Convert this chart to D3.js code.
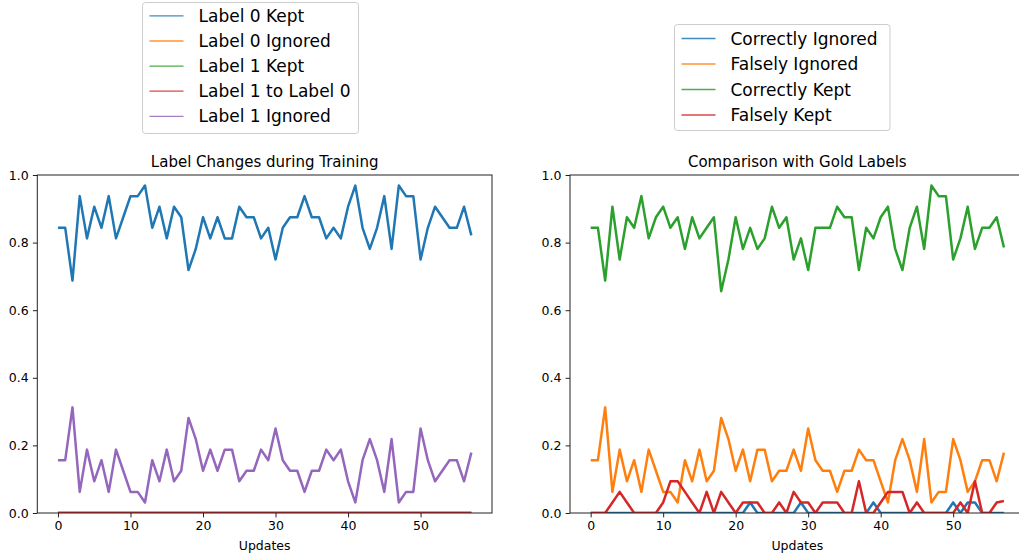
<!DOCTYPE html>
<html><head><meta charset="utf-8">
<script src="https://cdn.jsdelivr.net/npm/d3@7"></script>
<style>
html,body{margin:0;padding:0;background:#fff;}
svg{display:block;font-family:"DejaVu Sans",sans-serif;}
</style></head>
<body>
<svg id="chart" width="1019" height="560"></svg>
<script>
// ---------- data ----------
const updates = d3.range(58);
const xTicks = [0, 10, 20, 30, 40, 50];
const yTicks = [0.0, 0.2, 0.4, 0.6, 0.8, 1.0];

const label0Kept = [0.84375,0.84375,0.6875,0.9375,0.8125,0.90625,0.84375,0.9375,0.8125,0.875,
 0.9375,0.9375,0.96875,0.84375,0.90625,0.8125,0.90625,0.875,0.71875,0.78125,
 0.875,0.8125,0.875,0.8125,0.8125,0.90625,0.875,0.875,0.8125,0.84375,
 0.75,0.84375,0.875,0.875,0.9375,0.875,0.875,0.8125,0.84375,0.8125,
 0.90625,0.96875,0.84375,0.78125,0.84375,0.9375,0.78125,0.96875,0.9375,0.9375,
 0.75,0.84375,0.90625,0.875,0.84375,0.84375,0.90625,0.8214];
const label0Ignored = [0,0,0,0,0,0,0,0,0,0, 0,0,0,0,0,0,0,0,0,0, 0,0,0,0,0,0,0,0,0,0,
 0,0,0,0,0,0,0,0,0,0, 0,0,0,0,0,0,0,0,0,0, 0,0,0,0,0,0,0,0];
const label1Kept = [0,0,0,0,0,0,0,0,0,0, 0,0,0,0,0,0,0,0,0,0, 0,0,0,0,0,0,0,0,0,0,
 0,0,0,0,0,0,0,0,0,0, 0,0,0,0,0,0,0,0,0,0, 0,0,0,0,0,0,0,0];
const label1ToLabel0 = [0,0,0,0,0,0,0,0,0,0, 0,0,0,0,0,0,0,0,0,0, 0,0,0,0,0,0,0,0,0,0,
 0,0,0,0,0,0,0,0,0,0, 0,0,0,0,0,0,0,0,0,0, 0,0,0,0,0,0,0,0];
const label1Ignored = [0.15625,0.15625,0.3125,0.0625,0.1875,0.09375,0.15625,0.0625,0.1875,0.125,
 0.0625,0.0625,0.03125,0.15625,0.09375,0.1875,0.09375,0.125,0.28125,0.21875,
 0.125,0.1875,0.125,0.1875,0.1875,0.09375,0.125,0.125,0.1875,0.15625,
 0.25,0.15625,0.125,0.125,0.0625,0.125,0.125,0.1875,0.15625,0.1875,
 0.09375,0.03125,0.15625,0.21875,0.15625,0.0625,0.21875,0.03125,0.0625,0.0625,
 0.25,0.15625,0.09375,0.125,0.15625,0.15625,0.09375,0.1786];

const correctlyIgnored = [0,0,0,0,0,0,0,0,0,0,
 0,0,0,0,0,0,0,0,0,0,
 0,0,0.03125,0,0,0,0,0,0,0.03125,
 0,0,0,0,0,0,0,0,0,0.03125,
 0,0,0,0,0,0,0,0,0,0,
 0.03125,0,0.03125,0.03125,0,0,0,0];
const falselyIgnored = [0.15625,0.15625,0.3125,0.0625,0.1875,0.09375,0.15625,0.0625,0.1875,0.125,
 0.0625,0.0625,0.03125,0.15625,0.09375,0.1875,0.09375,0.125,0.28125,0.21875,
 0.125,0.1875,0.09375,0.1875,0.1875,0.09375,0.125,0.125,0.1875,0.125,
 0.25,0.15625,0.125,0.125,0.0625,0.125,0.125,0.1875,0.15625,0.15625,
 0.09375,0.03125,0.15625,0.21875,0.15625,0.0625,0.21875,0.03125,0.0625,0.0625,
 0.21875,0.15625,0.0625,0.09375,0.15625,0.15625,0.09375,0.1786];
const correctlyKept = [0.84375,0.84375,0.6875,0.90625,0.75,0.875,0.84375,0.9375,0.8125,0.875,
 0.90625,0.84375,0.875,0.78125,0.875,0.8125,0.84375,0.875,0.65625,0.75,
 0.875,0.78125,0.84375,0.78125,0.8125,0.90625,0.84375,0.875,0.75,0.8125,
 0.71875,0.84375,0.84375,0.84375,0.90625,0.875,0.875,0.71875,0.84375,0.8125,
 0.875,0.90625,0.78125,0.71875,0.84375,0.90625,0.78125,0.96875,0.9375,0.9375,
 0.75,0.8125,0.90625,0.78125,0.84375,0.84375,0.875,0.7857];
const falselyKept = [0,0,0,0.03125,0.0625,0.03125,0,0,0,0,
 0.03125,0.09375,0.09375,0.0625,0.03125,0,0.0625,0,0.0625,0.03125,
 0,0.03125,0.03125,0.03125,0,0,0.03125,0,0.0625,0.03125,
 0.03125,0,0.03125,0.03125,0.03125,0,0,0.09375,0,0,
 0.03125,0.0625,0.0625,0.0625,0,0.03125,0,0,0,0,
 0,0.03125,0,0.09375,0,0,0.03125,0.0357];

const leftNames = ["Label 0 Kept","Label 0 Ignored","Label 1 Kept","Label 1 to Label 0","Label 1 Ignored"];
const leftSeries = [label0Kept, label0Ignored, label1Kept, label1ToLabel0, label1Ignored];
const leftColors = ["#1f77b4","#ff7f0e","#2ca02c","#d62728","#9467bd"];
const rightNames = ["Correctly Ignored","Falsely Ignored","Correctly Kept","Falsely Kept"];
const rightSeries = [correctlyIgnored, falselyIgnored, correctlyKept, falselyKept];
const rightColors = ["#1f77b4","#ff7f0e","#2ca02c","#d62728"];

const titles = ["Label Changes during Training", "Comparison with Gold Labels"];
const xLabel = "Updates";

// ---------- drawing ----------
const svg = d3.select("#chart");
const plotTop = 175, plotBottom = 513;

function panel(idx, left, right, series, colors, title) {
  const x = d3.scaleLinear().domain([-2.85, 59.85]).range([left, right]);
  const y = d3.scaleLinear().domain([0, 1]).range([plotBottom, plotTop]);
  const g = svg.append("g");
  const clipId = "clip" + idx;
  svg.append("clipPath").attr("id", clipId).append("rect")
    .attr("x", left).attr("y", plotTop).attr("width", right - left).attr("height", plotBottom - plotTop);

  const line = d3.line().x((d, i) => x(updates[i])).y(d => y(d));
  const lines = g.append("g").attr("clip-path", `url(#${clipId})`);
  series.forEach((s, k) => {
    lines.append("path").datum(s).attr("d", line)
      .attr("fill", "none").attr("stroke", colors[k]).attr("stroke-width", 2.5)
      .attr("stroke-linejoin", "round").attr("stroke-linecap", "butt");
  });

  g.append("rect").attr("x", left).attr("y", plotTop).attr("width", right - left).attr("height", plotBottom - plotTop)
    .attr("fill", "none").attr("stroke", "#222").attr("stroke-width", 1);

  const xAxis = d3.axisBottom(x).tickValues(xTicks).tickFormat(d3.format("d")).tickSize(4.4).tickPadding(4.2);
  const gx = g.append("g").attr("transform", `translate(0,${plotBottom})`).call(xAxis);
  gx.select(".domain").remove();
  gx.selectAll("line").attr("stroke", "#222");
  gx.selectAll("text").attr("font-size", 12.5).attr("font-family", "DejaVu Sans").attr("fill", "#000");

  const yAxis = d3.axisLeft(y).tickValues(yTicks).tickFormat(d3.format(".1f")).tickSize(4.4).tickPadding(4.2);
  const gy = g.append("g").attr("transform", `translate(${left},0)`).call(yAxis);
  gy.select(".domain").remove();
  gy.selectAll("line").attr("stroke", "#222");
  gy.selectAll("text").attr("font-size", 12.5).attr("font-family", "DejaVu Sans").attr("fill", "#000");

  g.append("text").attr("x", (left + right) / 2).attr("y", 166.5).attr("text-anchor", "middle")
    .attr("font-size", 15).attr("fill", "#000").text(title);
  g.append("text").attr("x", (left + right) / 2).attr("y", 550)
    .attr("text-anchor", "middle").attr("font-size", 12.5).attr("fill", "#000").text(xLabel);
}

panel(0, 37.3, 492, leftSeries, leftColors, titles[0]);
panel(1, 570, 1024.6, rightSeries, rightColors, titles[1]);

function legend(bx, by, bw, bh, rows0, rowStep, names, colors) {
  const g = svg.append("g");
  g.append("rect").attr("x", bx).attr("y", by).attr("width", bw).attr("height", bh)
    .attr("rx", 3).attr("fill", "#fff").attr("fill-opacity", 0.8)
    .attr("stroke", "#cccccc").attr("stroke-width", 1);
  names.forEach((n, i) => {
    const cy = rows0 + i * rowStep;
    g.append("line").attr("x1", bx + 7).attr("x2", bx + 41).attr("y1", cy).attr("y2", cy)
      .attr("stroke", colors[i]).attr("stroke-width", 1.3).attr("stroke-opacity", 0.85);
    g.append("text").attr("x", bx + 56).attr("y", cy + 6).attr("font-size", 17)
      .attr("fill", "#000").text(n);
  });
}
legend(142.5, 2.5, 216, 131, 15.9, 25.1, leftNames, leftColors);
legend(674.5, 24.5, 215.5, 106, 38.5, 25.5, rightNames, rightColors);
</script>
</body></html>
